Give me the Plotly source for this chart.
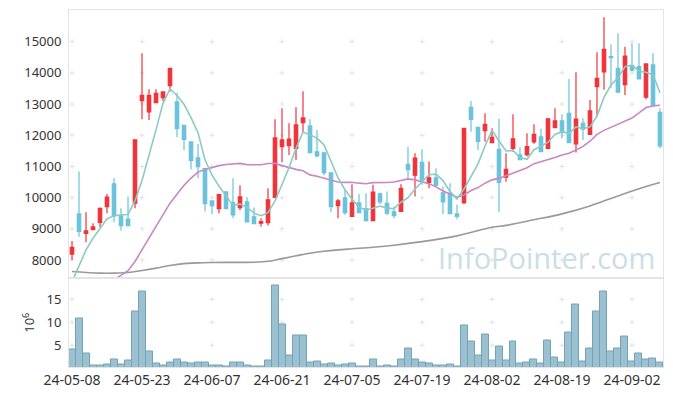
import plotly.graph_objects as go
import pandas as pd

dates = (
    ["2024-05-%02d" % d for d in [8, 9, 10, 13, 14, 16, 17, 20, 21, 22, 23, 24, 27, 28, 29, 30, 31]]
    + ["2024-06-%02d" % d for d in [3, 4, 5, 7, 10, 11, 12, 13, 14, 17, 18, 19, 20, 21, 24, 25, 26, 27, 28]]
    + ["2024-07-%02d" % d for d in [1, 2, 3, 4, 5, 8, 9, 10, 11, 12, 15, 16, 17, 18, 19, 22, 23, 24, 25, 26, 29, 30, 31]]
    + ["2024-08-%02d" % d for d in [1, 2, 5, 6, 7, 8, 9, 12, 13, 14, 16, 19, 20, 21, 22, 23, 26, 27, 28, 29, 30]]
    + ["2024-09-%02d" % d for d in [2, 3, 4, 5, 6]]
)

opens = [8190, 9480, 8850, 8980, 9210, 9710, 10440, 9415, 9310, 9820,
         13110, 12750, 13045, 13205, 13590, 13070, 12320, 11785, 11275, 10930,
         9895, 9650, 10185, 9840, 9680, 9865, 9385, 9180, 9200, 10005,
         11635, 11670, 11575, 12405, 12300, 11465, 11435, 10795, 9745, 9990,
         9395, 9830, 9640, 9265, 10120, 9820, 9545, 9555, 11070, 10720,
         11135, 10485, 10635, 10150, 10140, 9480, 9840, 12895, 12255, 12150,
         11765, 11550, 10655, 11575, 11370, 11380, 11785, 11945, 11575, 12245,
         12460, 12705, 11725, 12385, 12030, 13560, 14030, 14520, 14145, 13620,
         14230, 14200, 13220, 14255, 12735]
highs = [8610, 10840, 9530, 9180, 9680, 10120, 10620, 9660, 10035, 11850,
         14630, 13475, 13475, 13390, 14150, 13365, 12320, 11785, 11720, 10930,
         9895, 10120, 10185, 10620, 10400, 10015, 9680, 9340, 10300, 12510,
         12865, 12385, 12895, 13410, 12510, 12170, 11435, 10795, 9960, 10250,
         10430, 10120, 10140, 10410, 10165, 10195, 9715, 10430, 11635, 11425,
         11550, 11155, 10940, 10355, 10460, 9770, 12225, 13100, 12255, 12705,
         12225, 12525, 11425, 12675, 11615, 12065, 12355, 12205, 12525, 12865,
         12675, 13805, 14020, 12545, 13130, 14660, 15780, 14915, 15270, 14840,
         14950, 14950, 14285, 14630, 12865]
lows = [8000, 8750, 8570, 8945, 9050, 9500, 9210, 8945, 9105, 9660,
        12510, 12490, 13045, 13100, 13400, 11935, 11530, 10900, 10620, 9555,
        9470, 9500, 9650, 9340, 9605, 9225, 9170, 9075, 9105, 10005,
        11135, 11370, 11210, 12115, 11445, 11295, 10720, 9535, 9340, 9445,
        9395, 9520, 9235, 9265, 9800, 9445, 9340, 9555, 10570, 10035,
        10410, 10300, 10355, 9470, 9490, 9310, 9800, 12115, 11530, 11795,
        11765, 9535, 10510, 11475, 11220, 11315, 11725, 11475, 11575, 12245,
        11905, 11765, 11445, 11850, 12030, 12600, 13455, 13505, 13380, 13290,
        14040, 13805, 13155, 12950, 11585]
closes = [8410, 8920, 8935, 9060, 9660, 10020, 9415, 9105, 9105, 11850,
          13280, 13280, 13345, 13390, 14145, 12215, 11870, 11190, 10995, 9810,
          9745, 10100, 9650, 9445, 10025, 9225, 9170, 9235, 9930, 11915,
          11850, 11880, 12330, 12555, 11445, 11335, 10805, 9715, 9895, 9520,
          9830, 9520, 9265, 10175, 9865, 9500, 9425, 10300, 10900, 11265,
          10570, 10635, 10400, 9865, 9490, 9395, 12225, 12510, 11795, 12350,
          11935, 10485, 10910, 11885, 11220, 11635, 12030, 11475, 12525, 12460,
          12085, 11765, 12515, 12195, 12780, 13825, 14755, 14490, 13380, 14540,
          14085, 13805, 14285, 12970, 11660]
# volume in millions of shares
volumes = [4.13, 10.87, 3.26, 0.65, 0.65, 0.87, 1.96, 0.87, 1.74, 12.39,
           16.74, 3.70, 1.09, 0.65, 1.30, 1.96, 1.30, 1.09, 1.30, 1.30,
           0.65, 0.65, 0.36, 1.30, 1.30, 0.65, 0.36, 0.36, 1.74, 17.9,
           9.57, 2.83, 7.17, 7.17, 1.30, 1.52, 0.87, 1.09, 0.65, 0.87,
           1.09, 0.36, 0.36, 1.96, 0.36, 0.65, 0.36, 1.96, 4.35, 1.96,
           1.30, 1.09, 0.65, 0.65, 0.87, 0.43, 9.35, 5.87, 2.83, 7.39,
           1.74, 4.78, 1.74, 5.87, 1.09, 1.30, 1.96, 1.09, 6.09, 2.39,
           1.30, 7.83, 13.9, 1.52, 4.35, 12.39, 16.74, 3.70, 4.35, 6.96,
           1.52, 3.26, 1.96, 2.17, 1.30]
# closes of the 19 sessions before the first shown candle (estimated from MA lines)
prior_closes = [6350, 6300, 6250, 6400, 6350, 6300, 6505, 6185, 5870, 5800,
                5800, 5865, 5930, 6670, 6460, 6200, 6530, 7190, 8170]
# long moving average at selected sessions
ma_long_idx = [0, 2, 4, 6, 8, 10, 12, 14, 16, 18, 20, 23, 26, 28, 30, 32, 34, 36, 38, 40,
               43, 46, 50, 55, 60, 62, 66, 70, 74, 78, 82, 84]
ma_long_val = [7630, 7600, 7580, 7580, 7600, 7665, 7740, 7825, 7885, 7910, 7920, 7925, 7930,
               7960, 8045, 8135, 8220, 8280, 8325, 8360, 8410, 8475, 8590, 8775, 9050, 9110,
               9290, 9480, 9735, 10055, 10355, 10485]

price_ticks = [8000, 9000, 10000, 11000, 12000, 13000, 14000, 15000]
vol_ticks = [5, 10, 15]

n = len(dates)
xs = list(range(n))
tick_idx = xs[::10]
tick_text = [dates[i][2:] for i in tick_idx]

allc = pd.Series(prior_closes + closes)
ma5 = allc.rolling(5).mean().tolist()[len(prior_closes):]
ma20 = allc.rolling(20).mean().tolist()[len(prior_closes):]

UP = "#ee3339"
DOWN = "#6ac3da"
CROSS = "#e2e2e2"

fig = go.Figure()

fig.add_trace(go.Scatter(x=ma_long_idx, y=ma_long_val, mode="lines",
                         line=dict(color="#999999", width=1.6, shape="spline"),
                         hoverinfo="skip", showlegend=False))
fig.add_trace(go.Scatter(x=xs, y=ma20, mode="lines",
                         line=dict(color="#c987c6", width=1.6),
                         hoverinfo="skip", showlegend=False))

fig.add_trace(go.Candlestick(
    x=xs, open=opens, high=highs, low=lows, close=closes,
    increasing=dict(line=dict(color=UP, width=1.2), fillcolor=UP),
    decreasing=dict(line=dict(color=DOWN, width=1.2), fillcolor=DOWN),
    whiskerwidth=0, hoverinfo="skip", showlegend=False))

fig.add_trace(go.Scatter(x=xs, y=ma5, mode="lines",
                         line=dict(color="#8ccac2", width=1.6),
                         hoverinfo="skip", showlegend=False))

fig.add_trace(go.Bar(x=xs, y=volumes, xaxis="x2", yaxis="y2",
                     marker=dict(color="#9bc0d0", line=dict(color="#73a3b8", width=1)),
                     hoverinfo="skip", showlegend=False))

# small "+" grid markers behind the data
shapes = []
def add_cross(xref, yref, xv, yv):
    shapes.append(dict(type="line", layer="below", xref=xref, yref=yref,
                       xsizemode="pixel", xanchor=xv, x0=-2.5, x1=2.5, y0=yv, y1=yv,
                       line=dict(color=CROSS, width=1)))
    shapes.append(dict(type="line", layer="below", xref=xref, yref=yref,
                       ysizemode="pixel", yanchor=yv, y0=-2.5, y1=2.5, x0=xv, x1=xv,
                       line=dict(color=CROSS, width=1)))
for t in tick_idx:
    for p in price_ticks:
        add_cross("x", "y", t, p)
    for v in vol_ticks:
        add_cross("x2", "y2", t, v)

axis_line = "#e4e4e4"
# the page body adds 8px of margin, so the figure is 8px smaller and shifted
fig.update_layout(
    width=665, height=388,
    margin=dict(l=61, r=10, t=2, b=29, autoexpand=False),
    paper_bgcolor="white", plot_bgcolor="white",
    font=dict(family="Noto Sans", size=13, color="#333333"),
    showlegend=False, bargap=0, boxgap=0.3,
    shapes=shapes,
    xaxis=dict(domain=[0, 1], range=[-0.43, n - 1 + 0.43], anchor="y",
               showticklabels=False, showgrid=False, zeroline=False,
               showline=True, linecolor=axis_line, mirror=True, automargin=False,
               rangeslider=dict(visible=False), tickvals=tick_idx, ticks=""),
    yaxis=dict(domain=[0.2507, 1], range=[7440, 16015], anchor="x",
               tickvals=price_ticks, tickformat="d", showgrid=False, zeroline=False,
               showline=True, linecolor=axis_line, mirror=True, ticks="",
               automargin=False, ticklabelstandoff=4),
    xaxis2=dict(domain=[0, 1], range=[-0.43, n - 1 + 0.43], anchor="y2",
                tickvals=tick_idx, ticktext=tick_text, showgrid=False,
                zeroline=False, showline=True, linecolor=axis_line, mirror=True,
                automargin=False, ticks="", ticklabelstandoff=0,
                tickfont=dict(size=14)),
    yaxis2=dict(domain=[0, 0.2479], range=[0.28, 19.52], anchor="x2",
                tickvals=vol_ticks, tickformat="d", showgrid=False, zeroline=False,
                showline=True, linecolor=axis_line, mirror=True, ticks="",
                automargin=False, ticklabelstandoff=4,
                title=dict(text="10<sup>6</sup>", standoff=8,
                           font=dict(size=13, color="#333333"))),
    annotations=[dict(text="InfoPointer.com", xref="paper", yref="paper",
                      x=0.99, y=0.308, xanchor="right", yanchor="middle",
                      showarrow=False,
                      font=dict(family="Open Sans", size=29, color="#cbdde7"))],
)

fig.write_html("out.html")
